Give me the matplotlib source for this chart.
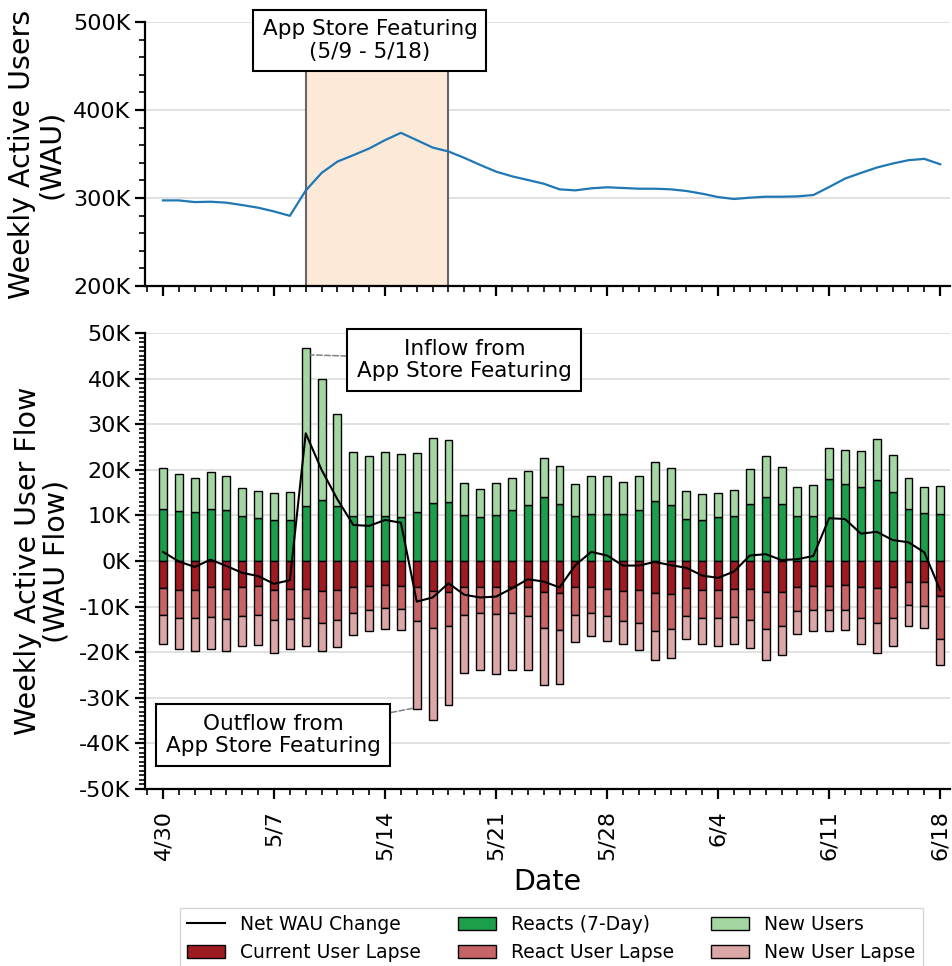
import matplotlib
matplotlib.use("Agg")
import matplotlib.pyplot as plt
import numpy as np
from matplotlib.ticker import FuncFormatter, MultipleLocator

# ---------------- data (values in thousands) ----------------
dates = ["4/30", "5/1", "5/2", "5/3", "5/4", "5/5", "5/6", "5/7", "5/8", "5/9",
         "5/10", "5/11", "5/12", "5/13", "5/14", "5/15", "5/16", "5/17", "5/18", "5/19",
         "5/20", "5/21", "5/22", "5/23", "5/24", "5/25", "5/26", "5/27", "5/28", "5/29",
         "5/30", "5/31", "6/1", "6/2", "6/3", "6/4", "6/5", "6/6", "6/7", "6/8",
         "6/9", "6/10", "6/11", "6/12", "6/13", "6/14", "6/15", "6/16", "6/17", "6/18"]

wau = [297.3, 297.3, 295.4, 295.8, 294.7, 292.0, 289.0, 284.8, 279.8, 308.5,
       328.5, 341.4, 348.7, 356.3, 365.8, 374.1, 365.8, 357.4, 352.9, 345.6,
       337.6, 330.0, 324.7, 320.5, 316.3, 309.9, 308.7, 311.0, 312.2, 311.4,
       310.6, 310.6, 309.9, 308.0, 304.9, 301.1, 298.9, 300.4, 301.5, 301.5,
       301.9, 303.4, 312.5, 322.1, 328.5, 334.6, 339.2, 343.0, 344.5, 338.4]

reacts = [11.3, 10.9, 10.7, 11.5, 11.1, 9.9, 9.4, 9.0, 8.9, 12.0,
          13.3, 12.1, 9.9, 9.8, 9.9, 9.6, 10.8, 12.7, 12.9, 10.0,
          9.6, 10.0, 11.1, 12.3, 14.0, 12.6, 9.9, 10.3, 10.2, 10.2,
          11.1, 13.1, 12.2, 9.2, 9.1, 9.6, 9.9, 12.4, 14.0, 12.5,
          9.8, 9.9, 18.0, 16.9, 16.2, 17.8, 15.1, 11.5, 10.5, 10.2]

new_users = [9.0, 8.2, 7.6, 8.1, 7.5, 6.2, 5.9, 6.0, 6.2, 34.7,
             26.5, 20.1, 14.0, 13.3, 14.0, 13.8, 12.8, 14.3, 13.7, 7.1,
             6.2, 7.0, 7.0, 7.5, 8.6, 8.3, 7.0, 8.3, 8.5, 7.1,
             7.5, 8.5, 8.1, 6.2, 5.7, 5.4, 5.6, 7.8, 9.0, 8.2,
             6.4, 6.7, 6.7, 7.4, 8.0, 8.9, 8.1, 6.8, 5.7, 6.2]

current_lapse = [-6.0, -6.3, -6.4, -5.8, -6.1, -5.8, -5.5, -6.3, -6.2, -6.1,
                 -6.5, -6.4, -5.8, -5.5, -5.3, -5.4, -5.8, -6.6, -6.7, -5.8,
                 -5.6, -5.6, -5.8, -5.8, -6.7, -7.1, -5.8, -5.8, -6.1, -6.5,
                 -6.4, -7.0, -7.2, -6.0, -6.3, -6.3, -6.1, -6.2, -6.8, -6.9,
                 -5.6, -5.4, -5.4, -5.3, -5.8, -6.0, -5.8, -4.5, -4.6, -7.6]

react_lapse = [-5.8, -6.3, -6.2, -6.5, -6.6, -6.2, -6.3, -6.7, -6.6, -6.3,
               -7.0, -6.6, -5.5, -5.3, -5.1, -5.1, -7.3, -8.2, -7.5, -6.0,
               -5.9, -6.0, -5.5, -6.3, -7.9, -8.0, -6.0, -5.7, -5.9, -6.6,
               -7.3, -8.4, -7.8, -6.0, -6.1, -6.2, -6.2, -6.8, -8.2, -7.4,
               -5.4, -5.3, -5.4, -5.4, -6.6, -7.7, -6.8, -5.1, -5.2, -9.5]

new_lapse = [-6.5, -6.7, -7.2, -7.1, -7.0, -6.6, -6.7, -7.1, -6.6, -6.2,
             -6.3, -5.9, -4.9, -4.6, -4.6, -4.6, -19.4, -20.1, -17.4, -12.8,
             -12.5, -13.1, -12.7, -11.8, -12.5, -11.9, -6.0, -4.9, -5.5, -5.2,
             -5.9, -6.3, -6.3, -5.0, -5.8, -6.2, -5.8, -6.0, -6.6, -6.4,
             -4.9, -4.7, -4.6, -4.4, -5.9, -6.5, -6.0, -4.7, -4.9, -5.6]

net_change = [2.0, -0.1, -1.3, 0.3, -1.1, -2.6, -3.3, -5.0, -4.2, 28.0,
              20.0, 13.5, 7.9, 7.7, 9.0, 8.4, -8.9, -8.0, -4.9, -7.4,
              -8.0, -7.8, -6.0, -4.0, -4.5, -5.8, -0.9, 2.0, 1.2, -1.0,
              -1.0, -0.2, -0.9, -1.5, -3.2, -3.7, -2.3, 1.2, 1.5, 0.2,
              0.4, 1.1, 9.4, 9.2, 6.0, 6.4, 4.6, 4.1, 1.9, -6.4]

feature_start, feature_end = "5/9", "5/18"

# ---------------- styling ----------------
c_reacts = "#1d9e4b"
c_new = "#a4d6a2"
c_cur = "#9e1b21"
c_rlapse = "#c86466"
c_nlapse = "#dba6a6"

TICK_FS = 16
LABEL_FS = 20.5
ANN_FS = 15.5

plt.rcParams["font.family"] = ["DejaVu Sans"]
fig = plt.figure(figsize=(9.53, 9.66), dpi=100)
ax1 = fig.add_axes([0.1522, 0.7039, 0.8447, 0.2733])
ax2 = fig.add_axes([0.1522, 0.1832, 0.8447, 0.4721])

x = np.arange(len(dates))
ks = FuncFormatter(lambda v, p: f"{v:.0f}K")
tick_pos = x[::7]
tick_lab = [dates[i] for i in tick_pos]

for ax in (ax1, ax2):
    for s in ("top", "right"):
        ax.spines[s].set_visible(False)
    for s in ("left", "bottom"):
        ax.spines[s].set_linewidth(1.6)
    ax.set_xlim(-1.13, 49.62)
    ax.set_xticks(tick_pos)
    ax.xaxis.set_minor_locator(MultipleLocator(1))
    ax.yaxis.set_major_formatter(ks)
    ax.tick_params(which="major", length=7, width=1.6, labelsize=TICK_FS)
    ax.tick_params(which="minor", length=4, width=1.2)
    ax.grid(axis="y", color="#d9d9d9", linewidth=1.1, zorder=0)
    ax.set_axisbelow(True)

# top chart
xs = dates.index(feature_start)
xe = dates.index(feature_end)
ax1.axvspan(xs, xe, facecolor="#fde9d8", edgecolor="#666666", linewidth=1.5, zorder=1)
ax1.plot(x, wau, color="#1f77b4", linewidth=1.6, zorder=3)
ax1.set_ylim(200, 500)
ax1.yaxis.set_major_locator(MultipleLocator(100))
ax1.yaxis.set_minor_locator(MultipleLocator(20))
ax1.set_xticklabels([])
ax1.set_ylabel("Weekly Active Users\n(WAU)", fontsize=LABEL_FS, linespacing=1.05, labelpad=6)
ax1.text((xs + xe) / 2 - 0.45, 479, "App Store Featuring\n(5/9 - 5/18)", ha="center", va="center",
         fontsize=ANN_FS, linespacing=1.15, zorder=5, clip_on=False,
         bbox=dict(boxstyle="square,pad=0.42", facecolor="white", edgecolor="black", linewidth=1.5))

# bottom chart
w = 0.5
kw = dict(width=w, edgecolor="black", linewidth=1.0, zorder=2)
ax2.bar(x, reacts, color=c_reacts, label="Reacts (7-Day)", **kw)
ax2.bar(x, new_users, bottom=reacts, color=c_new, label="New Users", **kw)
ax2.bar(x, current_lapse, color=c_cur, label="Current User Lapse", **kw)
ax2.bar(x, react_lapse, bottom=current_lapse, color=c_rlapse, label="React User Lapse", **kw)
ax2.bar(x, new_lapse, bottom=np.array(current_lapse) + np.array(react_lapse),
        color=c_nlapse, label="New User Lapse", **kw)
ax2.plot(x, net_change, color="black", linewidth=1.5, zorder=4, label="Net WAU Change")
ax2.set_ylim(-50, 50)
ax2.yaxis.set_major_locator(MultipleLocator(10))
ax2.yaxis.set_minor_locator(MultipleLocator(1))
ax2.set_xticklabels(tick_lab, rotation=90)
ax2.tick_params(axis="x", which="major", pad=8)
ax2.set_ylabel("Weekly Active User Flow\n(WAU Flow)", fontsize=LABEL_FS, linespacing=1.05, labelpad=6)
ax2.set_xlabel("Date", fontsize=LABEL_FS, labelpad=6)

box = dict(boxstyle="square,pad=0.45", facecolor="white", edgecolor="black", linewidth=1.5)
arr = dict(arrowstyle="-", linestyle="--", color="gray", linewidth=1.1, shrinkA=0, shrinkB=0)
ax2.annotate("Inflow from\nApp Store Featuring", xy=(9.3, 45.2), xytext=(19.0, 44.1),
             ha="center", va="center", fontsize=ANN_FS, linespacing=1.15, bbox=box, arrowprops=arr, zorder=6)
ax2.annotate("Outflow from\nApp Store Featuring", xy=(15.75, -32.3), xytext=(6.95, -38.2),
             ha="center", va="center", fontsize=ANN_FS, linespacing=1.15, bbox=box, arrowprops=arr, zorder=6)

# legend
h, l = ax2.get_legend_handles_labels()
order = ["Net WAU Change", "Current User Lapse", "Reacts (7-Day)", "React User Lapse",
         "New Users", "New User Lapse"]
hd = dict(zip(l, h))
fig.legend([hd[k] for k in order], order, ncol=3, loc="upper center",
           bbox_to_anchor=(0.5785, 0.0605), fontsize=13.5, frameon=True,
           fancybox=False, edgecolor="#cccccc", borderaxespad=0)

fig.savefig("out.png", dpi=100)
